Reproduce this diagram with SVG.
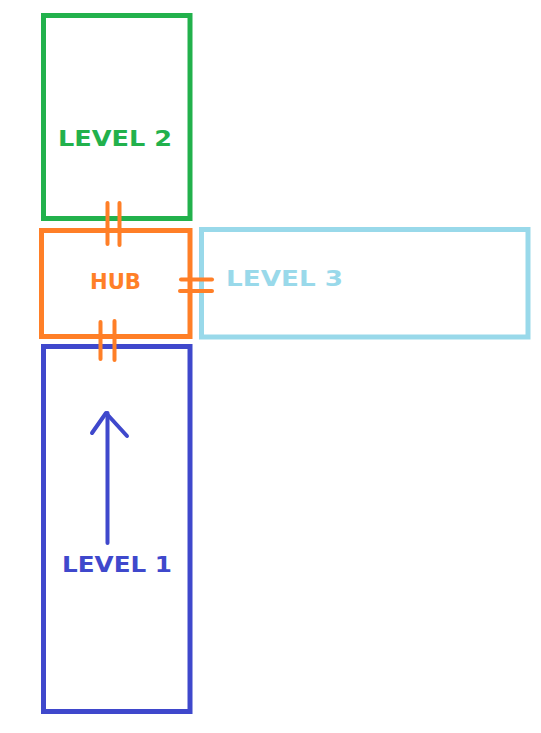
<svg xmlns="http://www.w3.org/2000/svg" width="541" height="733" viewBox="0 0 541 733">
<style>
.box{fill:none;stroke-width:5}
.lbl{font-family:"DejaVu Sans","Liberation Sans",Arial,sans-serif;font-weight:bold;font-size:21.5px}
.tick{stroke:#FF7F27;stroke-width:4;stroke-linecap:round;fill:none}
</style>
<rect width="541" height="733" fill="#ffffff"/>
<g id="level2">
<rect class="box" x="43.5" y="15.5" width="146.5" height="203" stroke="#22B14C"/>
<text class="lbl" x="58" y="145.5" fill="#22B14C" textLength="114" lengthAdjust="spacingAndGlyphs">LEVEL 2</text>
</g>
<g id="hub">
<rect class="box" x="41.5" y="230.5" width="148.5" height="106" stroke="#FF7F27"/>
<text class="lbl" x="90" y="289" fill="#FF7F27" textLength="51" lengthAdjust="spacingAndGlyphs">HUB</text>
</g>
<g id="level3">
<rect class="box" x="201.5" y="229.5" width="326.5" height="107.5" stroke="#99D9EA"/>
<text class="lbl" x="226" y="285.5" fill="#99D9EA" textLength="117" lengthAdjust="spacingAndGlyphs">LEVEL 3</text>
</g>
<g id="level1">
<rect class="box" x="43.5" y="346.5" width="146.5" height="365" stroke="#3F48CC"/>
<text class="lbl" x="62" y="572" fill="#3F48CC" textLength="110" lengthAdjust="spacingAndGlyphs">LEVEL 1</text>
</g>
<g id="connectors">
<line class="tick" x1="107.5" y1="203" x2="107.5" y2="244"/>
<line class="tick" x1="119.5" y1="203" x2="119.5" y2="245"/>
<line class="tick" x1="100.5" y1="322" x2="100.5" y2="359"/>
<line class="tick" x1="114.5" y1="321" x2="114.5" y2="360"/>
<line class="tick" x1="181" y1="279.5" x2="212" y2="279.5"/>
<line class="tick" x1="180" y1="291" x2="212" y2="291"/>
<polyline points="107.5,543 107.5,413" fill="none" stroke="#3F48CC" stroke-width="4" stroke-linecap="round"/>
<polyline points="92,433 106,413 127,436" fill="none" stroke="#3F48CC" stroke-width="4" stroke-linecap="round" stroke-linejoin="round"/>
</g>
</svg>
